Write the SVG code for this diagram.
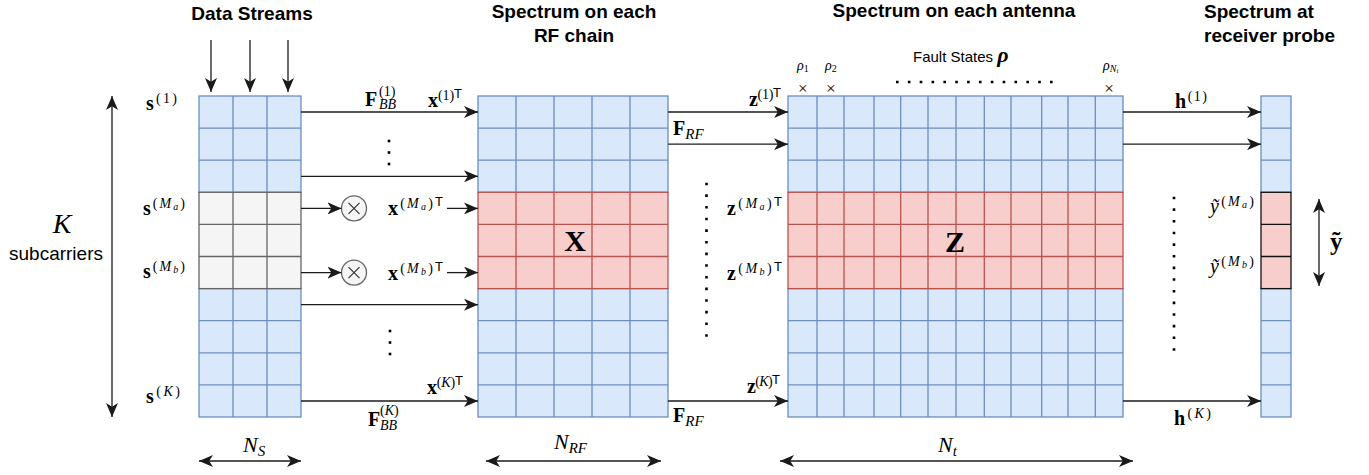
<svg xmlns="http://www.w3.org/2000/svg" width="1369" height="475" viewBox="0 0 1369 475">
<style>
.bl{fill:#dae8fc;stroke:#6c8ebf;stroke-width:1.3}
.bll{fill:none;stroke:#6c8ebf;stroke-width:1.3}
.rd{fill:#f8cecc;stroke:#b85450;stroke-width:1.3}
.rdl{fill:none;stroke:#b85450;stroke-width:1.3}
.gy{fill:#f5f5f5;stroke:#666666;stroke-width:1.3}
.gyl{fill:none;stroke:#666666;stroke-width:1.3}
.rk{fill:#f8cecc;stroke:#111;stroke-width:1.3}
.rkl{fill:none;stroke:#111;stroke-width:1.3}
.ca{fill:none;stroke:#1a1a1a;stroke-width:1.3;marker-end:url(#ah)}
.cd{fill:none;stroke:#1a1a1a;stroke-width:1.3;marker-start:url(#ah);marker-end:url(#ah)}
.dots{fill:none;stroke:#000;stroke-width:2.6}
.t{font-family:"Liberation Sans",Arial,sans-serif;fill:#000}
.tb{font-family:"Liberation Sans",Arial,sans-serif;font-weight:bold;font-size:19px;fill:#000}
.m{font-family:"Liberation Serif","Times New Roman",serif;font-size:20px;fill:#000}
.b{font-weight:bold}
.i{font-style:italic}
.sp{font-size:14px;font-weight:normal}
.ss{font-size:10px;font-weight:normal;font-style:italic}
.sT{font-family:"Liberation Sans",Arial,sans-serif;font-size:13px;font-weight:normal;font-style:normal}
</style>
<defs>
<marker id="ah" viewBox="0 0 14 12" refX="14" refY="6" markerWidth="14" markerHeight="12" markerUnits="userSpaceOnUse" orient="auto-start-reverse">
<path d="M0,0 L14,6 L0,12 L3.8,6 Z" fill="#1a1a1a"/>
</marker>
</defs>
<rect width="1369" height="475" fill="#fff"/>

<g id="titles">
<text class="tb" x="252" y="20" text-anchor="middle">Data Streams</text>
<text class="tb" x="574" y="18" text-anchor="middle">Spectrum on each</text>
<text class="tb" x="574" y="42" text-anchor="middle">RF chain</text>
<text class="tb" x="954" y="17" text-anchor="middle">Spectrum on each antenna</text>
<text class="tb" x="1204" y="18">Spectrum at</text>
<text class="tb" x="1204" y="42">receiver probe</text>
</g>

<g id="grid-s">
<rect class="bl" x="199" y="96" width="102" height="96.3"/>
<path class="bll" d="M233 96V192.3M267 96V192.3M199 128.1H301M199 160.2H301"/>
<rect class="bl" x="199" y="288.6" width="102" height="128.4"/>
<path class="bll" d="M233 288.6V417M267 288.6V417M199 320.7H301M199 352.8H301M199 384.9H301"/>
<rect class="gy" x="199" y="192.3" width="102" height="96.3"/>
<path class="gyl" d="M233 192.3V288.6M267 192.3V288.6M199 224.4H301M199 256.5H301"/>
</g>

<g id="grid-x">
<rect class="bl" x="478" y="96" width="190" height="96.3"/>
<path class="bll" d="M516 96V192.3M554 96V192.3M592 96V192.3M630 96V192.3M478 128.1H668M478 160.2H668"/>
<rect class="bl" x="478" y="288.6" width="190" height="128.4"/>
<path class="bll" d="M516 288.6V417M554 288.6V417M592 288.6V417M630 288.6V417M478 320.7H668M478 352.8H668M478 384.9H668"/>
<rect class="rd" x="478" y="192.3" width="190" height="96.3"/>
<path class="rdl" d="M516 192.3V288.6M554 192.3V288.6M592 192.3V288.6M630 192.3V288.6M478 224.4H668M478 256.5H668"/>
<text class="m b" x="575" y="251" text-anchor="middle" style="font-size:30px">X</text>
</g>

<g id="grid-z">
<rect class="bl" x="788" y="96" width="335" height="96.3"/>
<path class="bll" d="M817 96V192.3M844 96V192.3M874 96V192.3M900.7 96V192.3M928 96V192.3M956 96V192.3M984.3 96V192.3M1011 96V192.3M1041.7 96V192.3M1068 96V192.3M1095.3 96V192.3M788 128.1H1123M788 160.2H1123"/>
<rect class="bl" x="788" y="288.6" width="335" height="128.4"/>
<path class="bll" d="M817 288.6V417M844 288.6V417M874 288.6V417M900.7 288.6V417M928 288.6V417M956 288.6V417M984.3 288.6V417M1011 288.6V417M1041.7 288.6V417M1068 288.6V417M1095.3 288.6V417M788 320.7H1123M788 352.8H1123M788 384.9H1123"/>
<rect class="rd" x="788" y="192.3" width="335" height="96.3"/>
<path class="rdl" d="M817 192.3V288.6M844 192.3V288.6M874 192.3V288.6M900.7 192.3V288.6M928 192.3V288.6M956 192.3V288.6M984.3 192.3V288.6M1011 192.3V288.6M1041.7 192.3V288.6M1068 192.3V288.6M1095.3 192.3V288.6M788 224.4H1123M788 256.5H1123"/>
<text class="m b" x="955" y="252" text-anchor="middle" style="font-size:30px">Z</text>
</g>

<g id="grid-y">
<rect class="bl" x="1261" y="96" width="30" height="96.3"/>
<path class="bll" d="M1261 128.1H1291M1261 160.2H1291"/>
<rect class="bl" x="1261" y="288.6" width="30" height="128.4"/>
<path class="bll" d="M1261 320.7H1291M1261 352.8H1291M1261 384.9H1291"/>
<rect class="rk" x="1261" y="192.3" width="30" height="96.3"/>
<path class="rkl" d="M1261 224.4H1291M1261 256.5H1291"/>
</g>

<g id="mul-a">
<circle class="gy" cx="354" cy="208.4" r="12.5"/>
<path d="M348.5 202.9L359.5 213.9M359.5 202.9L348.5 213.9" stroke="#333" stroke-width="1.2"/>
</g>
<g id="mul-b">
<circle class="gy" cx="354" cy="272.6" r="12.5"/>
<path d="M348.5 267.1L359.5 278.1M359.5 267.1L348.5 278.1" stroke="#333" stroke-width="1.2"/>
</g>

<g id="connectors">
<path class="ca" d="M211 40V92"/>
<path class="ca" d="M250 40V92"/>
<path class="ca" d="M288 40V92"/>
<path class="cd" d="M112 96V417"/>
<path class="ca" d="M301 112H478"/>
<path class="ca" d="M301 176.3H478"/>
<path class="ca" d="M301 208.4H341.5"/>
<path class="ca" d="M447 208.4H478"/>
<path class="ca" d="M301 272.6H341.5"/>
<path class="ca" d="M447 272.6H478"/>
<path class="ca" d="M301 304.7H478"/>
<path class="ca" d="M301 401H478"/>
<path class="ca" d="M668 112H788"/>
<path class="ca" d="M668 144.2H788"/>
<path class="ca" d="M668 401H788"/>
<path class="ca" d="M1123 112H1261"/>
<path class="ca" d="M1123 144.2H1261"/>
<path class="ca" d="M1123 401H1261"/>
<path class="cd" d="M1319 199V286"/>
<path class="cd" d="M199 461H301"/>
<path class="cd" d="M486 461H661"/>
<path class="cd" d="M780 461H1133"/>
</g>

<g id="ellipses">
<path class="dots" d="M706.5 182.7V337" stroke-dasharray="2.6 9.05"/>
<path class="dots" d="M1174 196.7V351" stroke-dasharray="2.6 9.05"/>
<path class="dots" d="M896 82H1053" stroke-dasharray="2.6 9.25"/>
<g fill="#000">
<rect x="387.7" y="139.7" width="2.6" height="2.6"/>
<rect x="387.7" y="151.2" width="2.6" height="2.6"/>
<rect x="387.7" y="162.7" width="2.6" height="2.6"/>
<rect x="388.7" y="329.7" width="2.6" height="2.6"/>
<rect x="388.7" y="341.2" width="2.6" height="2.6"/>
<rect x="388.7" y="352.7" width="2.6" height="2.6"/>
</g>
</g>

<g id="labels">
<text class="m i" x="62" y="233" text-anchor="middle" style="font-size:28px">K</text>
<text class="t" x="56" y="260" text-anchor="middle" style="font-size:19px">subcarriers</text>

<text class="m b" x="146" y="110" textLength="31" lengthAdjust="spacing">s<tspan class="sp" dy="-7">(1)</tspan></text>
<text class="m b" x="143" y="215" textLength="42" lengthAdjust="spacing">s<tspan class="sp" dy="-7">(</tspan><tspan class="sp i">M</tspan><tspan class="ss" dy="2">a</tspan><tspan class="sp" dy="-2">)</tspan></text>
<text class="m b" x="143" y="278" textLength="42" lengthAdjust="spacing">s<tspan class="sp" dy="-7">(</tspan><tspan class="sp i">M</tspan><tspan class="ss" dy="2">b</tspan><tspan class="sp" dy="-2">)</tspan></text>
<text class="m b" x="146" y="403" textLength="34" lengthAdjust="spacing">s<tspan class="sp" dy="-7">(<tspan class="i">K</tspan>)</tspan></text>

<text class="m b" x="365" y="106" style="font-size:20px">F</text>
<text class="m" x="379" y="96" style="font-size:14px">(1)</text>
<text class="m i" x="379" y="109" style="font-size:14px">BB</text>
<text class="m b" x="368" y="426" style="font-size:20px">F</text>
<text class="m" x="380" y="415" style="font-size:14px">(<tspan class="i">K</tspan>)</text>
<text class="m i" x="380" y="430" style="font-size:14px">BB</text>

<text class="m b" x="428" y="107" textLength="34" lengthAdjust="spacing">x<tspan class="sp" dy="-7">(1)</tspan><tspan class="sT" dy="-2">T</tspan></text>
<text class="m b" x="427" y="394" textLength="36" lengthAdjust="spacing">x<tspan class="sp" dy="-7">(<tspan class="i">K</tspan>)</tspan><tspan class="sT" dy="-2">T</tspan></text>
<text class="m b" x="388" y="215" textLength="55" lengthAdjust="spacing">x<tspan class="sp" dy="-7">(</tspan><tspan class="sp i">M</tspan><tspan class="ss" dy="2">a</tspan><tspan class="sp" dy="-2">)</tspan><tspan class="sT" dy="-2">T</tspan></text>
<text class="m b" x="388" y="280" textLength="55" lengthAdjust="spacing">x<tspan class="sp" dy="-7">(</tspan><tspan class="sp i">M</tspan><tspan class="ss" dy="2">b</tspan><tspan class="sp" dy="-2">)</tspan><tspan class="sT" dy="-2">T</tspan></text>

<text class="m b" x="673" y="135" style="font-size:20px">F<tspan class="i" style="font-size:15px;font-weight:normal" dy="4">RF</tspan></text>
<text class="m b" x="673" y="422" style="font-size:20px">F<tspan class="i" style="font-size:15px;font-weight:normal" dy="4">RF</tspan></text>

<text class="m b" x="749" y="106" textLength="32" lengthAdjust="spacing">z<tspan class="sp" dy="-7">(1)</tspan><tspan class="sT" dy="-2">T</tspan></text>
<text class="m b" x="747" y="393" textLength="33" lengthAdjust="spacing">z<tspan class="sp" dy="-7">(<tspan class="i">K</tspan>)</tspan><tspan class="sT" dy="-2">T</tspan></text>
<text class="m b" x="727" y="215" textLength="55" lengthAdjust="spacing">z<tspan class="sp" dy="-7">(</tspan><tspan class="sp i">M</tspan><tspan class="ss" dy="2">a</tspan><tspan class="sp" dy="-2">)</tspan><tspan class="sT" dy="-2">T</tspan></text>
<text class="m b" x="727" y="280" textLength="55" lengthAdjust="spacing">z<tspan class="sp" dy="-7">(</tspan><tspan class="sp i">M</tspan><tspan class="ss" dy="2">b</tspan><tspan class="sp" dy="-2">)</tspan><tspan class="sT" dy="-2">T</tspan></text>

<text class="m b" x="1175" y="108" textLength="32" lengthAdjust="spacing">h<tspan class="sp" dy="-7">(1)</tspan></text>
<text class="m b" x="1174" y="425" textLength="37" lengthAdjust="spacing">h<tspan class="sp" dy="-7">(<tspan class="i">K</tspan>)</tspan></text>

<text class="m i" x="1210" y="213" textLength="44" lengthAdjust="spacing">ỹ<tspan class="sp" style="font-style:normal" dy="-7">(</tspan><tspan class="sp i">M</tspan><tspan class="ss" dy="2">a</tspan><tspan class="sp" style="font-style:normal" dy="-2">)</tspan></text>
<text class="m i" x="1210" y="273" textLength="44" lengthAdjust="spacing">ỹ<tspan class="sp" style="font-style:normal" dy="-7">(</tspan><tspan class="sp i">M</tspan><tspan class="ss" dy="2">b</tspan><tspan class="sp" style="font-style:normal" dy="-2">)</tspan></text>
<text class="m b" x="1330" y="250" style="font-size:25px">ỹ</text>

<text class="t" x="913" y="62" style="font-size:15px">Fault States <tspan class="m b i" style="font-size:22px">ρ</tspan></text>
<text class="m i" x="797" y="70" style="font-size:14px">ρ<tspan style="font-size:10px;font-style:normal" dy="1.5">1</tspan></text>
<text class="m i" x="825" y="70" style="font-size:14px">ρ<tspan style="font-size:10px;font-style:normal" dy="1.5">2</tspan></text>
<text class="m i" x="1103" y="70" style="font-size:14px">ρ<tspan style="font-size:10px" dy="1.5">N</tspan><tspan style="font-size:7px" dy="1">t</tspan></text>
<text class="m" x="802.7" y="93.5" text-anchor="middle" style="font-size:17px">×</text>
<text class="m" x="830.7" y="93.5" text-anchor="middle" style="font-size:17px">×</text>
<text class="m" x="1109" y="93.5" text-anchor="middle" style="font-size:17px">×</text>

<text class="m i" x="243" y="452" style="font-size:22px">N<tspan style="font-size:15px" dy="4">S</tspan></text>
<text class="m i" x="554" y="449" style="font-size:22px">N<tspan style="font-size:15px" dy="4">RF</tspan></text>
<text class="m i" x="938" y="452" style="font-size:22px">N<tspan style="font-size:15px" dy="4">t</tspan></text>
</g>
</svg>
